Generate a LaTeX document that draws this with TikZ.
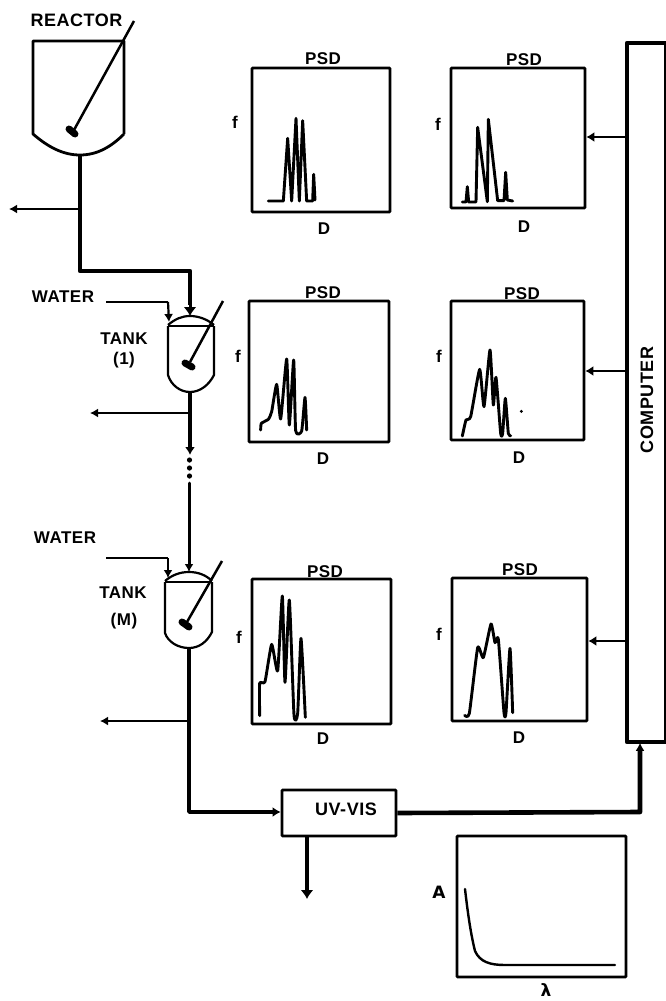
\documentclass[tikz,border=0pt]{standalone}
\usepackage{fontspec}
\setmainfont{Liberation Sans}[LetterSpace=3]
\usetikzlibrary{arrows.meta}
\tikzset{
  vessel/.style={line width=2.2pt,line join=round},
  vesselthick/.style={line width=2.8pt,line join=round},
  stirrer/.style={line width=2.5pt},
  blob/.style={line width=7pt,line cap=round},
  pipeheavy/.style={line width=4.6pt,line join=round},
  pipe/.style={line width=3.6pt,line join=round},
  thinpipe/.style={line width=2.2pt,line join=round},
  headbig/.style={-{Latex[length=9pt,width=13pt]}},
  headmid/.style={-{Latex[length=8pt,width=10pt]}},
  headsmall/.style={-{Latex[length=8pt,width=9pt]}},
  lab/.style={font=\bfseries\fontsize{17}{20}\selectfont,inner sep=0pt},
  biglab/.style={font=\bfseries\fontsize{18}{20}\selectfont,inner sep=0pt},
  plotbox/.style={draw,line width=2.6pt,inner sep=0pt,rounded corners=0.8pt},
  curve/.style={line width=2.9pt,line join=round,line cap=round},
  zoomA/.style={xshift=230pt,yshift=-30pt,x=0.33333pt,y=-0.33333pt},
  zoomB/.style={xshift=230pt,yshift=-270pt,x=0.33333pt,y=-0.33333pt},
  zoomC/.style={xshift=230pt,yshift=-550pt,x=0.33333pt,y=-0.33333pt}
}
\begin{document}
\begin{tikzpicture}[x=1pt,y=-1pt]
\useasboundingbox (0,0) rectangle (666,1001);
% reactor
\draw[vesselthick] (124,134) -- (124,41) -- (33,41) -- (33,134)
  .. controls (48,147) and (63,155) .. (80,155)
  .. controls (97,155) and (111,147) .. (124,134);
\draw[stirrer] (134,21) -- (74,130);
\draw[blob] (69,129) -- (75,134);
\coordinate (rout) at (80,155);
\node[biglab] (lreactor) at (76.5,20) {REACTOR};
% tank 1
\draw[vessel] (168,325) .. controls (175,319) and (182,316) .. (190,316)
  .. controls (198,316) and (207,319) .. (214,325);
\draw[vessel] (168,326) -- (214,326);
\draw[vessel] (214,326) -- (214,375) .. controls (209,385) and (200,392) .. (190,392)
  .. controls (180,392) and (171,385) .. (168,375) -- (168,326);
\draw[stirrer] (223,301) -- (190,362);
\draw[blob] (185,363) -- (192,367);
\coordinate (t1in) at (190,316);
\coordinate (t1w) at (169,322);
\coordinate (t1out) at (190,392);
\node[lab] (ltank1) at (124,339) {TANK};
\node[lab] (lone) at (124,360) {(1)};
% tank M
\draw[vessel] (165,581) .. controls (172,575) and (180,572) .. (189,572)
  .. controls (198,572) and (206,575) .. (212,581);
\draw[vessel] (165,582) -- (212,582);
\draw[vessel] (212,582) -- (212,632) .. controls (207,642) and (199,648) .. (189,648)
  .. controls (178,648) and (168,642) .. (165,633) -- (165,582);
\draw[stirrer] (222,561) -- (187,622);
\draw[blob] (182,622) -- (189,627);
\coordinate (tmin) at (189,572);
\coordinate (tmw) at (168,578);
\coordinate (tmout) at (189,648);
\node[lab] (ltankm) at (123,593) {TANK};
\node[lab] (lm) at (124,621) {(M)};
% water labels
\node[lab] (lw1) at (63,297) {WATER};
\node[lab] (lw2) at (65,538) {WATER};
\coordinate (w1) at (106,302);
\coordinate (w2) at (106,558);
% computer
\node[draw,line width=1.6pt,inner sep=0pt,minimum width=38pt,minimum height=699pt] (comp) at (646,392.5) {};
\draw[line width=4.6pt,line join=round] (666,43) -- (627,43) -- (627,742) -- (666,742);
\node[biglab,rotate=90] (lcomp) at (647,400) {COMPUTER};
% PSD plots
\node[plotbox,minimum width=138pt,minimum height=144pt] (p1) at (321,140) {};
\node[plotbox,minimum width=134pt,minimum height=140pt] (p2) at (518,138) {};
\node[plotbox,minimum width=140pt,minimum height=141pt] (p3) at (319,371.5) {};
\node[plotbox,minimum width=133pt,minimum height=139pt] (p4) at (517.5,370.5) {};
\node[plotbox,minimum width=139pt,minimum height=145pt] (p5) at (321.5,651.5) {};
\node[plotbox,minimum width=135pt,minimum height=143pt] (p6) at (519.5,649.5) {};
\node[plotbox,minimum width=169pt,minimum height=141pt] (p7) at (541.5,906.5) {};
\foreach \n/\px/\py/\fx/\fy/\dx/\dy in {1/323/59/235/122/324/229,2/524/60/438/124/524/227,3/323/293/238/356/323/459,4/522/294/439/356/519/458,5/325/572/239/637/323/739,6/520/570/439/634/519/738}{
  \node[lab] (psd\n) at (\px,\py) {PSD};
  \node[lab] (f\n) at (\fx,\fy) {f};
  \node[lab] (d\n) at (\dx,\dy) {D};
}
\node[lab] (la) at (439,892) {\fontspec{DejaVu Sans}[LetterSpace=0]\bfseries A};
\node[lab] (llam) at (546,990) {\fontspec{DejaVu Sans}[LetterSpace=0]\bfseries λ};
% curves
\draw[curve,zoomA] (115,513) -- (160,513) -- (173,325) -- (185,513) -- (198,265) -- (208,513) -- (218,272) -- (230,513) -- (248,513) -- (251,433) -- (255,510);
\draw[curve,zoomA] (697,516) -- (708,516) -- (712,470) -- (716,516) -- (738,516) -- (743,292) -- (772,515) -- (775,268) -- (803,512) -- (822,512) -- (827,427) -- (832,510) -- (848,513);
\draw[curve,zoomB] plot[smooth,tension=0.3] coordinates {(92,480) (94,460) (115,448) (125,425) (140,343) (152,447) (170,267) (178,465) (191,270) (197,482) (215,483) (225,382) (230,480)};
\draw[curve,zoomB] plot[smooth,tension=0.3] coordinates {(697,498) (708,450) (722,440) (749,298) (762,410) (780,240) (790,405) (798,322) (812,490) (818,490) (826,385) (835,490) (842,497)};
\fill[zoomB] (874,424) circle (5);
\draw[curve,zoomC] plot[smooth,tension=0.3] coordinates {(89,497) (89,400) (105,395) (125,283) (143,363) (157,138) (165,397) (178,150) (192,495) (203,490) (213,265) (226,502)};
\draw[curve,zoomC] plot[smooth,tension=0.3] coordinates {(704,496) (718,490) (743,293) (760,323) (783,222) (795,278) (805,268) (822,488) (828,488) (840,295) (848,488)};
\draw[line width=2.4pt,line cap=round] (465,889) .. controls (468,915) and (471,935) .. (475,951) .. controls (480,962) and (490,965) .. (505,965) -- (615,965);
% UV-VIS
\node[draw,line width=2.8pt,rounded corners=0.8pt,minimum width=114pt,minimum height=46pt,inner sep=0pt] (uv) at (339,813) {};
\node[font=\bfseries\fontsize{18}{20}\selectfont,inner sep=0pt] (luv) at (346,809) {UV-VIS};
% connectors
\coordinate (b0) at (9,209);
\coordinate (j0) at (80,209);
\draw[pipeheavy] (rout) -- (80,271) -- (190,271) -- (190,305);
\draw[headbig,line width=3pt] (190,300) -- (t1in);
\draw[thinpipe,headsmall] (j0) -- (b0);
\draw[thinpipe] (w1) -- (168,302);
\draw[thinpipe,headsmall] (168,302) -- (t1w);
\coordinate (j1) at (190,413);
\coordinate (b1) at (90,413);
\draw[pipe,headmid] (t1out) -- (190,455);
\draw[thinpipe,headsmall] (j1) -- (b1);
\foreach \y/\nm in {460/dota,468/dotb,476/dotc}{\fill (189.5,\y) circle (2.6pt) coordinate (\nm);}
\coordinate (mid) at (189,483);
\draw[line width=3pt,headsmall,line cap=round] (mid) -- (tmin);
\draw[thinpipe] (w2) -- (168,558);
\draw[thinpipe,headsmall] (168,558) -- (tmw);
\coordinate (j2) at (189,721);
\coordinate (b2) at (100,721);
\draw[thinpipe,headsmall] (j2) -- (b2);
\draw[pipe,headmid] (tmout) -- (189,812) -- (uv.west |- 0,812);
\draw[pipeheavy,headbig] (307,836) -- (307,899);
\draw[pipeheavy,headsmall] (uv.east |- 0,813) -- (640,812) -- (comp.south -| 640,0);
\draw[thinpipe,headmid] (627,137) -- (p2.east |- 0,137);
\draw[thinpipe,headmid] (627,371) -- (p4.east |- 0,371);
\draw[thinpipe,headmid] (627,641) -- (p6.east |- 0,641);
\end{tikzpicture}
\end{document}
